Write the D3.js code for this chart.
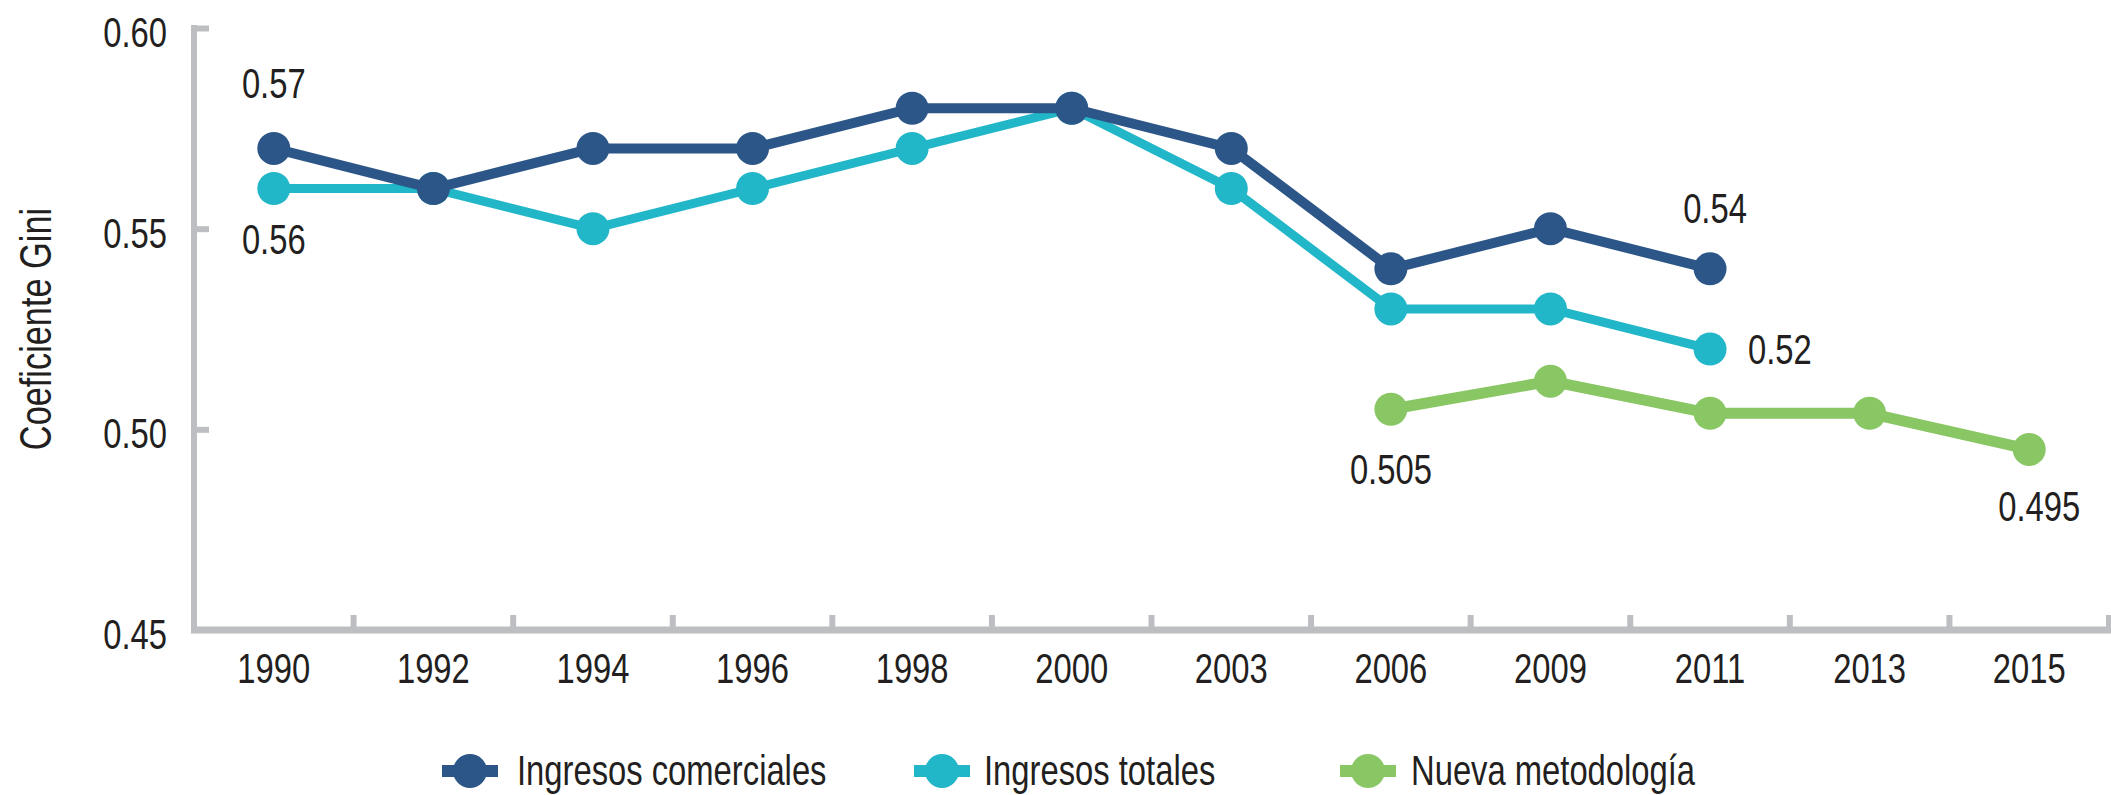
<!DOCTYPE html>
<html>
<head>
<meta charset="utf-8">
<script src="https://cdn.jsdelivr.net/npm/d3@7/dist/d3.min.js"></script>
<style>
  html, body { margin: 0; padding: 0; background: #fff; }
  svg { display: block; }
  text { font-family: "Liberation Sans", Arial, sans-serif; fill: #231f20; }
</style>
</head>
<body>
<svg id="chart" width="2111" height="795"></svg>
<script>
// ---- data ----
const years = ["1990","1992","1994","1996","1998","2000","2003","2006","2009","2011","2013","2015"];
const seriesNames = ["Ingresos comerciales", "Ingresos totales", "Nueva metodología"];
const comerciales = [0.57, 0.56, 0.57, 0.57, 0.58, 0.58, 0.57, 0.54, 0.55, 0.54, null, null];
const totales     = [0.56, 0.56, 0.55, 0.56, 0.57, 0.58, 0.56, 0.53, 0.53, 0.52, null, null];
const nueva       = [null, null, null, null, null, null, null, 0.505, 0.512, 0.504, 0.504, 0.495];
const yTicks = [0.45, 0.50, 0.55, 0.60];
const yTitle = "Coeficiente Gini";

// annotated values: [series index, year, label text]
const annotations = [
  [0, "1990", "0.57"],
  [1, "1990", "0.56"],
  [0, "2011", "0.54"],
  [1, "2011", "0.52"],
  [2, "2006", "0.505"],
  [2, "2015", "0.495"]
];

// ---- styles / layout ----
const colors = ["#2d5688", "#22b6c9", "#89c664"];
const lineW = [10, 9, 11];
const axisColor = "#bdbec1";
const fontSize = 42;
const condense = 0.78; // horizontal condensing of text (condensed typeface look)
const pLeft = 194, pRight = 2109, pTop = 28, pBottom = 630;

// label offsets relative to marker (style only)
const annOffsets = [
  {dx: 0, dy: -50, anchor: "middle"},
  {dx: 0, dy: 65, anchor: "middle"},
  {dx: 5, dy: -46, anchor: "middle"},
  {dx: 38, dy: 15, anchor: "start"},
  {dx: 0, dy: 75, anchor: "middle"},
  {dx: 10, dy: 72, anchor: "middle"}
];

const svg = d3.select("#chart");
const x = d3.scaleBand().domain(years).range([pLeft, pRight]).padding(0);
const y = d3.scaleLinear().domain([0.45, 0.60]).range([pBottom, pTop]);
const cx = yr => x(yr) + x.bandwidth() / 2;

// ---- axes ----
const yAxis = d3.axisRight(y).tickValues(yTicks.filter(v => v > 0.45)).tickSize(15).tickFormat("");
const gy = svg.append("g").attr("transform", `translate(${pLeft},0)`).call(yAxis);
gy.select(".domain").remove();
gy.selectAll(".tick line").attr("stroke", axisColor).attr("stroke-width", 6);

svg.append("line").attr("x1", pLeft).attr("x2", pLeft).attr("y1", pTop - 3).attr("y2", pBottom + 3)
  .attr("stroke", axisColor).attr("stroke-width", 6);

// y tick labels
svg.append("g").selectAll("text").data(yTicks).join("text")
  .attr("x", 167).attr("y", d => y(d) + 19)
  .attr("text-anchor", "end").attr("font-size", fontSize)
  .text(d => d3.format(".2f")(d));

// y title
svg.append("text")
  .attr("transform", `translate(51,${(pTop + pBottom) / 2}) rotate(-90)`)
  .attr("text-anchor", "middle").attr("font-size", 44)
  .text(yTitle);

// x axis
const xAxis = d3.axisTop(x).tickSize(0).tickFormat("");
const gx = svg.append("g").attr("transform", `translate(0,${pBottom})`).call(xAxis);
gx.select(".domain").remove();
svg.append("line").attr("x1", pLeft - 3).attr("x2", pRight + 2).attr("y1", pBottom).attr("y2", pBottom)
  .attr("stroke", axisColor).attr("stroke-width", 7);
// boundary ticks (pointing up)
svg.append("g").selectAll("line").data(years.map((d, i) => i + 1)).join("line")
  .attr("x1", i => i < years.length ? x(years[i]) : pRight)
  .attr("x2", i => i < years.length ? x(years[i]) : pRight)
  .attr("y1", pBottom).attr("y2", pBottom - 15)
  .attr("stroke", axisColor).attr("stroke-width", 6);
// x labels
svg.append("g").selectAll("text").data(years).join("text")
  .attr("x", d => cx(d)).attr("y", pBottom + 53)
  .attr("text-anchor", "middle").attr("font-size", fontSize)
  .text(d => d);

// ---- series ----
const allSeries = [comerciales, totales, nueva];
const drawOrder = [2, 1, 0];
const line = d3.line().defined(d => d.v != null).x(d => cx(d.yr)).y(d => y(d.v));
drawOrder.forEach(si => {
  const pts = years.map((yr, i) => ({yr, v: allSeries[si][i]}));
  const g = svg.append("g");
  g.append("path").datum(pts).attr("d", line)
    .attr("fill", "none").attr("stroke", colors[si]).attr("stroke-width", lineW[si])
    .attr("stroke-linejoin", "round");
  g.selectAll("circle").data(pts.filter(d => d.v != null)).join("circle")
    .attr("cx", d => cx(d.yr)).attr("cy", d => y(d.v)).attr("r", 16.5)
    .attr("fill", colors[si]);
});

// ---- annotations ----
svg.append("g").selectAll("text").data(annotations).join("text")
  .attr("x", (d, i) => cx(d[1]) + annOffsets[i].dx)
  .attr("y", (d, i) => y(allSeries[d[0]][years.indexOf(d[1])]) + annOffsets[i].dy)
  .attr("text-anchor", (d, i) => annOffsets[i].anchor)
  .attr("font-size", fontSize)
  .text(d => d[2]);

// ---- legend ----
const legendX = [470, 942, 1368];
const legendY = 771;
const lg = svg.append("g").selectAll("g").data(seriesNames).join("g")
  .attr("transform", (d, i) => `translate(${legendX[i]},${legendY})`);
lg.append("line").attr("x1", -28).attr("x2", 28).attr("y1", 0).attr("y2", 0)
  .attr("stroke", (d, i) => colors[i]).attr("stroke-width", 12);
lg.append("circle").attr("r", 17).attr("fill", (d, i) => colors[i]);
lg.append("text").attr("x", (d, i) => [47, 42, 43][i]).attr("y", 14)
  .attr("font-size", fontSize).text(d => d);

// condense all texts horizontally
svg.selectAll("text").each(function () {
  const w = this.getComputedTextLength();
  this.setAttribute("textLength", (w * condense).toFixed(1));
  this.setAttribute("lengthAdjust", "spacingAndGlyphs");
});
</script>
</body>
</html>
